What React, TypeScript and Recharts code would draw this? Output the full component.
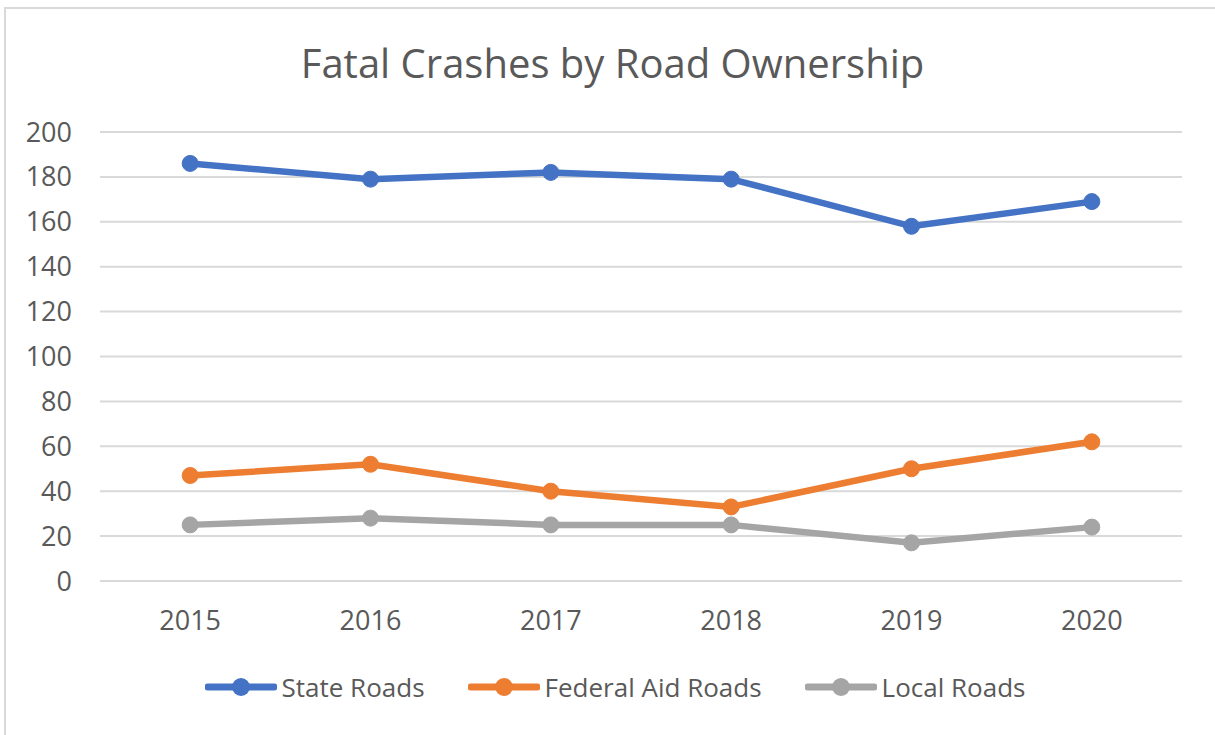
import React from "react";
import { LineChart, Line, XAxis, YAxis, CartesianGrid } from "recharts";

const years = ["2015", "2016", "2017", "2018", "2019", "2020"];
const stateRoads = [186, 179, 182, 179, 158, 169];
const federalAidRoads = [47, 52, 40, 33, 50, 62];
const localRoads = [25, 28, 25, 25, 17, 24];
const yTicks = [0, 20, 40, 60, 80, 100, 120, 140, 160, 180, 200];

const seriesInfo = [
  { key: "state", name: "State Roads", color: "#4472C4" },
  { key: "federal", name: "Federal Aid Roads", color: "#ED7D31" },
  { key: "local", name: "Local Roads", color: "#A5A5A5" },
];

const data = years.map((y, i) => ({
  year: y,
  state: stateRoads[i],
  federal: federalAidRoads[i],
  local: localRoads[i],
}));

const FONT = "'Open Sans', 'Segoe UI', sans-serif";
const TEXT = "#595959";

export default function App() {
  return (
    <div
      style={{
        position: "absolute",
        left: 0,
        top: 0,
        width: 1215,
        height: 735,
        background: "#fff",
        fontFamily: FONT,
        overflow: "hidden",
      }}
    >
      <div
        style={{
          position: "absolute",
          left: 4,
          top: 7,
          width: 1300,
          height: 800,
          borderLeft: "2px solid #d9d9d9",
          borderTop: "2px solid #d9d9d9",
        }}
      />
      <div
        style={{
          position: "absolute",
          left: 0,
          top: 35,
          width: 1225,
          textAlign: "center",
          fontSize: 40,
          color: TEXT,
          lineHeight: "56px",
        }}
      >
        Fatal Crashes by Road Ownership
      </div>
      <div style={{ position: "absolute", left: 0, top: 0 }}>
        <LineChart
          width={1215}
          height={735}
          data={data}
          margin={{ top: 132, right: 33, bottom: 0, left: 0 }}
        >
          <CartesianGrid vertical={false} stroke="#d9d9d9" strokeWidth={2} />
          <XAxis
            dataKey="year"
            scale="band"
            axisLine={{ stroke: "#d9d9d9", strokeWidth: 2 }}
            tickLine={false}
            tickMargin={24}
            interval={0}
            tick={{ fill: TEXT, fontSize: 27, fontFamily: FONT }}
            height={154}
          />
          <YAxis
            domain={[0, 200]}
            ticks={yTicks}
            interval={0}
            axisLine={false}
            tickLine={false}
            tickMargin={22}
            width={100}
            tick={{ fill: TEXT, fontSize: 27, fontFamily: FONT }}
          />
          {seriesInfo.map((s) => (
            <Line
              key={s.key}
              dataKey={s.key}
              name={s.name}
              stroke={s.color}
              strokeWidth={6.5}
              dot={{ r: 8, fill: s.color, stroke: s.color, strokeWidth: 1 }}
              isAnimationActive={false}
            />
          ))}
        </LineChart>
      </div>
      <div
        style={{
          position: "absolute",
          left: 0,
          top: 668,
          width: 1230,
          height: 38,
          display: "flex",
          justifyContent: "center",
          alignItems: "center",
          gap: 43,
          fontSize: 26,
          color: TEXT,
        }}
      >
        {seriesInfo.map((s) => (
          <div key={s.key} style={{ display: "flex", alignItems: "center" }}>
            <svg width={72} height={20} style={{ marginRight: 5 }}>
              <line x1={3} y1={10} x2={69} y2={10} stroke={s.color} strokeWidth={7} strokeLinecap="round" />
              <circle cx={36} cy={10} r={9} fill={s.color} />
            </svg>
            <span>{s.name}</span>
          </div>
        ))}
      </div>
    </div>
  );
}
